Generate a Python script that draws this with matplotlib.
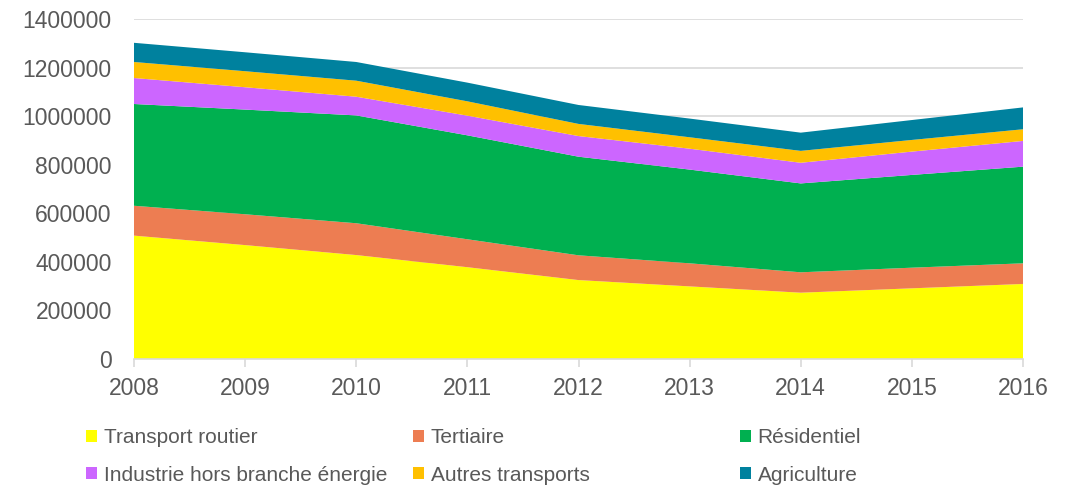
import matplotlib
matplotlib.use("Agg")
import matplotlib.pyplot as plt
from matplotlib.patches import Patch
from matplotlib.ticker import StrMethodFormatter

plt.rcParams['font.family'] = ['Liberation Sans', 'DejaVu Sans']

years = [2008, 2009, 2010, 2011, 2012, 2013, 2014, 2015, 2016]

transport_routier = [508000, 469000, 428000, 378000, 325000, 299000, 273000, 291000, 309000]
tertiaire = [123000, 127000, 131000, 115000, 102000, 95000, 84000, 85000, 85000]
residentiel = [419000, 431000, 444000, 428000, 406000, 386000, 366000, 382000, 398000]
industrie = [107000, 92000, 77000, 81000, 85000, 86000, 85000, 96000, 106000]
autres_transports = [66000, 66000, 66000, 59000, 50000, 47000, 49000, 48000, 48000]
agriculture = [79000, 78000, 77000, 77000, 78000, 77000, 75000, 82000, 90000]

labels = ["Transport routier", "Tertiaire", "Résidentiel",
          "Industrie hors branche énergie", "Autres transports", "Agriculture"]
colors = ["#FFFF00", "#ED7D52", "#00B050", "#CC66FF", "#FFC000", "#00819E"]

text_color = "#595959"
grid_color = "#D9D9D9"

fig = plt.figure(figsize=(10.65, 4.86), dpi=100)
ax = fig.add_axes([134 / 1065, 1 - 359 / 486, (1023 - 134) / 1065, 340 / 486])

ax.stackplot(years, transport_routier, tertiaire, residentiel, industrie,
             autres_transports, agriculture, colors=colors, linewidth=0)

ax.set_xlim(2008, 2016)
ax.set_ylim(0, 1400000)
ax.set_yticks(range(0, 1400001, 200000))
ax.yaxis.set_major_formatter(StrMethodFormatter("{x:.0f}"))
ax.set_xticks(years)
ax.yaxis.grid(True, color=grid_color, linewidth=1.2)
ax.set_axisbelow(True)

for side in ["top", "right", "left"]:
    ax.spines[side].set_visible(False)
ax.spines["bottom"].set_color(grid_color)
ax.spines["bottom"].set_linewidth(1.2)

ax.tick_params(axis="y", length=0, pad=16, labelsize=16.5, labelcolor=text_color)
ax.tick_params(axis="x", length=6, width=1.2, color=grid_color, pad=7,
               labelsize=16.5, labelcolor=text_color)

# three legend columns, each holding two entries
handles = [Patch(facecolor=c, edgecolor="none") for c in colors]
col_x = [86 / 1065, 413 / 1065, 740 / 1065]
for i, x in enumerate(col_x):
    leg = fig.legend([handles[i], handles[i + 3]], [labels[i], labels[i + 3]],
                     loc="upper left", bbox_to_anchor=(x, 1 - 428 / 486),
                     frameon=False, fontsize=15, handlelength=0.55,
                     handleheight=0.5, handletextpad=0.3, labelspacing=0.9,
                     borderpad=0, borderaxespad=0)
    for t in leg.get_texts():
        t.set_color(text_color)

fig.savefig("out.png", dpi=100)
